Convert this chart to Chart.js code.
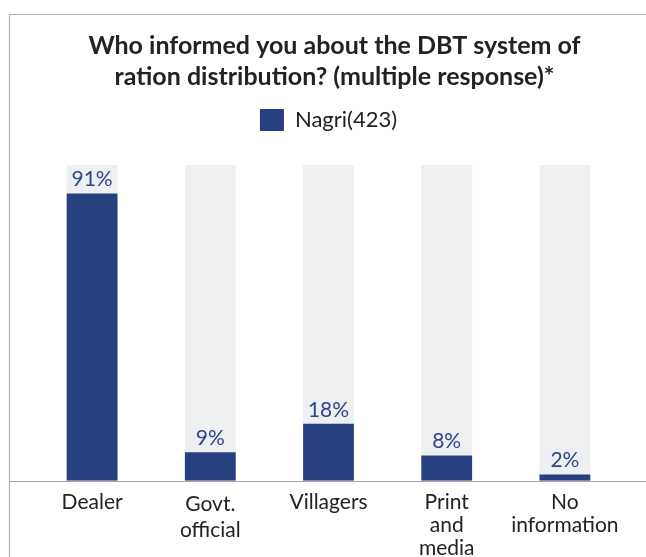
<!DOCTYPE html>
<html>
<head>
<meta charset="utf-8">
<script src="https://cdn.jsdelivr.net/npm/chart.js@4"></script>
<style>
  html, body { margin: 0; padding: 0; background: #fff; }
  #wrap { width: 646px; height: 557px; position: relative; }
</style>
</head>
<body>
<div id="wrap"><canvas id="c" width="646" height="557"></canvas></div>
<script>
// Survey answers: who told respondents about the DBT ration system
const categories = [["Dealer"], ["Govt.", "official"], ["Villagers"], ["Print", "and", "media"], ["No", "information"]];
const nagriValues = [91, 9, 18, 8, 2];
const fullScale = [100, 100, 100, 100, 100];
const seriesName = "Nagri(423)";
const titleLines = ["Who informed you about the DBT system of", "ration distribution? (multiple response)*"];

const FONT = "Lato";
const NAVY = "#27407f";
const LEGEND_GAP = 24;   // extra room between the legend and the plot
const TITLE_SHIFT = 6;   // title sits a little right of the plot centre

// Frame lines along the top and left of the panel, and the long baseline
const framePlugin = {
  id: "frame",
  beforeUpdate(chart) {
    const lg = chart.legend;
    if (lg && !lg._gapPatched) {
      const fit = lg.fit.bind(lg);
      lg.fit = function () { fit(); this.height += LEGEND_GAP; };
      lg._gapPatched = true;
    }
  },
  afterLayout(chart) {
    const tb = chart.titleBlock;
    if (tb) { tb.left += TITLE_SHIFT; tb.right += TITLE_SHIFT; }
  },
  beforeDraw(chart) {
    const ctx = chart.ctx;
    ctx.save();
    ctx.strokeStyle = "#b3b3b3";
    ctx.lineWidth = 1.2;
    ctx.beginPath();
    ctx.moveTo(9.5, chart.height);
    ctx.lineTo(9.5, 14.5);
    ctx.lineTo(chart.width, 14.5);
    ctx.stroke();
    ctx.restore();
  },
  afterDatasetsDraw(chart) {
    const ctx = chart.ctx;
    const y = Math.round(chart.scales.y.getPixelForValue(0)) + 0.5;
    ctx.save();
    ctx.strokeStyle = "#a6a6a6";
    ctx.lineWidth = 1.2;
    ctx.beginPath();
    ctx.moveTo(9.5, y);
    ctx.lineTo(chart.width, y);
    ctx.stroke();
    ctx.restore();
  }
};

// Percentage labels above each navy bar
const valueLabelPlugin = {
  id: "valueLabels",
  afterDatasetsDraw(chart) {
    const ctx = chart.ctx;
    const meta = chart.getDatasetMeta(1);
    ctx.save();
    ctx.font = "400 21px " + FONT;
    ctx.fillStyle = "#2d4788";
    ctx.textAlign = "center";
    ctx.textBaseline = "alphabetic";
    meta.data.forEach((bar, i) => {
      ctx.fillText(nagriValues[i] + "%", bar.x, bar.y - 7);
    });
    ctx.restore();
  }
};

new Chart(document.getElementById("c"), {
  type: "bar",
  data: {
    labels: categories,
    datasets: [
      {
        label: "track",
        data: fullScale,
        backgroundColor: "#eeeff1",
        order: 2,
        barPercentage: 0.43,
        categoryPercentage: 1
      },
      {
        label: seriesName,
        data: nagriValues,
        backgroundColor: NAVY,
        order: 1,
        barPercentage: 0.43,
        categoryPercentage: 1
      }
    ]
  },
  options: {
    responsive: false,
    animation: false,
    devicePixelRatio: 1,
    grouped: false,
    layout: { padding: { left: 33, right: 22, top: 30, bottom: -13 } },
    plugins: {
      title: {
        display: true,
        text: titleLines,
        color: "#222",
        font: { family: FONT, size: 25, weight: "700", lineHeight: 1.24 },
        padding: { top: 0, bottom: 7 }
      },
      legend: {
        display: true,
        labels: {
          filter: (item) => item.datasetIndex === 1,
          boxWidth: 24,
          boxHeight: 22,
          color: "#222",
          font: { family: FONT, size: 22 },
          padding: 10
        }
      },
      tooltip: { enabled: false }
    },
    scales: {
      x: {
        grid: { display: false, drawTicks: false },
        border: { display: false },
        ticks: {
          color: "#222",
          font: (c) => ({ family: FONT, size: 21, lineHeight: c.index === 1 ? 1.25 : 1.1 }),
          padding: 10,
          maxRotation: 0,
          autoSkip: false
        }
      },
      y: {
        display: false,
        min: 0,
        max: 100
      }
    }
  },
  plugins: [framePlugin, valueLabelPlugin]
});
</script>
</body>
</html>
